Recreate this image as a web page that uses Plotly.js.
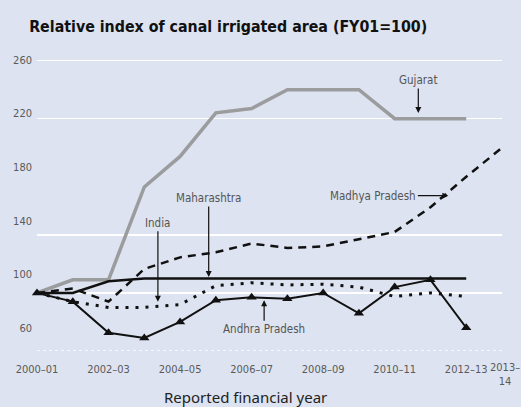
<!DOCTYPE html>
<html>
<head>
<meta charset="utf-8">
<script src="https://cdn.plot.ly/plotly-3.0.1.min.js"></script>
<style>html,body{margin:0;padding:0;background:#dde3f0;}#chart{width:521px;height:407px;}</style>
</head>
<body>
<div id="chart"></div>
<script>
// Categories (reported financial years)
const years = ["2000–01","2001–02","2002–03","2003–04","2004–05","2005–06","2006–07",
               "2007–08","2008–09","2009–10","2010–11","2011–12","2012–13","2013–14"];
// Tick labels shown on the x axis
const tickYears = ["2000–01","2002–03","2004–05","2006–07","2008–09","2010–11","2012–13"];
const tickLabels = ["2000–01","2002–03","2004–05","2006–07","2008–09","2010–11","2012–13"];
// Last year label, wrapped as in the source
const lastYearLabel = "2013–<br>14";
// Series values (index, FY01 = 100)
const gujarat     = [100, 109, 109, 173, 194, 224, 227, 240, 240, 240, 220, 220, 220];
const maharashtra = [100, 100, 108, 110, 110, 110, 110, 110, 110, 110, 110, 110, 110];
const india       = [100, 94, 90, 90, 92, 105, 107, 105.5, 106, 104, 97.5, 100, 97.5];
const madhya      = [100, 103, 94, 116.5, 124.5, 128, 134, 131, 132, 137, 142, 159, 180, 200];
const andhra      = [100, 94, 72.5, 69, 80, 95, 97, 96, 100, 86, 104, 109, 76];
// Y tick labels
const yTicks = [60, 100, 140, 180, 220, 260];

const bg = '#dde3f0';
const tickFont = {family: 'DejaVu Sans Condensed', size: 11, color: '#5a5a5a'};
const annFont = {family: 'DejaVu Sans Condensed', size: 11.5, color: '#555555'};

const traces = [
  {x: years.slice(0, gujarat.length), y: gujarat, mode: 'lines', name: 'Gujarat',
   line: {color: '#9b9c9e', width: 3.5}, cliponaxis: false},
  {x: years.slice(0, madhya.length), y: madhya, mode: 'lines', name: 'Madhya Pradesh',
   line: {color: '#111111', width: 2.5, dash: '8px,6px'}, cliponaxis: false},
  {x: years.slice(0, india.length), y: india, mode: 'lines', name: 'India',
   line: {color: '#111111', width: 3, dash: '3px,7px'}, cliponaxis: false},
  {x: years.slice(0, maharashtra.length), y: maharashtra, mode: 'lines', name: 'Maharashtra',
   line: {color: '#111111', width: 2.5}, cliponaxis: false},
  {x: years.slice(0, andhra.length), y: andhra, mode: 'lines+markers', name: 'Andhra Pradesh',
   line: {color: '#111111', width: 2}, marker: {symbol: 'triangle-up', size: 9, color: '#111111'},
   cliponaxis: false},
  // empty trace that only carries the y tick-label axis
  {x: [], y: [], yaxis: 'y2', mode: 'lines', showlegend: false, hoverinfo: 'skip'}
];

const arrow = {showarrow: true, arrowhead: 2, arrowsize: 1, arrowwidth: 1.2, arrowcolor: '#111111',
               font: annFont, xref: 'x', yref: 'y'};

const layout = {
  width: 521, height: 407,
  paper_bgcolor: bg, plot_bgcolor: bg,
  margin: {l: 37, r: 19, t: 49, b: 56},
  showlegend: false,
  title: {text: 'Relative index of canal irrigated area (FY01=100)',
          font: {family: 'DejaVu Sans Condensed', size: 15.8, color: '#111111', weight: 'bold'},
          xref: 'container', x: 0.056, xanchor: 'left', yref: 'container', y: 0.934, yanchor: 'middle'},
  xaxis: {type: 'category', range: [0, 13], tickvals: tickYears, ticktext: tickLabels, tickangle: 0,
          ticklabelstandoff: 10,
          showgrid: false, zeroline: false, showline: false, ticks: '', tickfont: tickFont},
  yaxis: {range: [60, 268], tickvals: [100, 140, 220, 260], showticklabels: false,
          showgrid: true, gridcolor: '#ffffff', gridwidth: 1.5, zeroline: false, showline: false, ticks: ''},
  yaxis2: {overlaying: 'y', anchor: 'x', side: 'left', range: [42.8, 268.2], tickvals: yTicks,
           ticklabelstandoff: 4,
           showgrid: false, zeroline: false, showline: false, ticks: '', tickfont: tickFont},
  shapes: [{type: 'line', xref: 'paper', x0: 0, x1: 1, yref: 'y', y0: 60, y1: 60,
            line: {color: '#ffffff', width: 1.5, dash: 'dot'}}],
  annotations: [
    {text: lastYearLabel, showarrow: false, xref: 'x', yref: 'paper', x: years[13], y: 0,
     xanchor: 'center', yanchor: 'top', xshift: 3, yshift: -9, align: 'center',
     font: tickFont, borderpad: 0},
    {text: 'Reported financial year', showarrow: false, xref: 'paper', yref: 'paper',
     x: 0.449, y: 0, xanchor: 'center', yanchor: 'middle', yshift: -46,
     font: {family: 'Noto Sans', size: 15, color: '#222222'}},
    Object.assign({}, arrow, {text: 'Gujarat', x: 10.66, y: 224, ax: 0, ay: -33}),
    Object.assign({}, arrow, {text: 'Madhya Pradesh', x: 11.5, y: 167, ax: -75, ay: 0}),
    Object.assign({}, arrow, {text: 'Maharashtra', x: 4.8, y: 111, ax: 0, ay: -79}),
    Object.assign({}, arrow, {text: 'India', x: 3.38, y: 94, ax: 0, ay: -79}),
    Object.assign({}, arrow, {text: 'Andhra Pradesh', x: 6.35, y: 95, ax: 0, ay: 29})
  ]
};

Plotly.newPlot('chart', traces, layout, {displayModeBar: false, staticPlot: true});
</script>
</body>
</html>
